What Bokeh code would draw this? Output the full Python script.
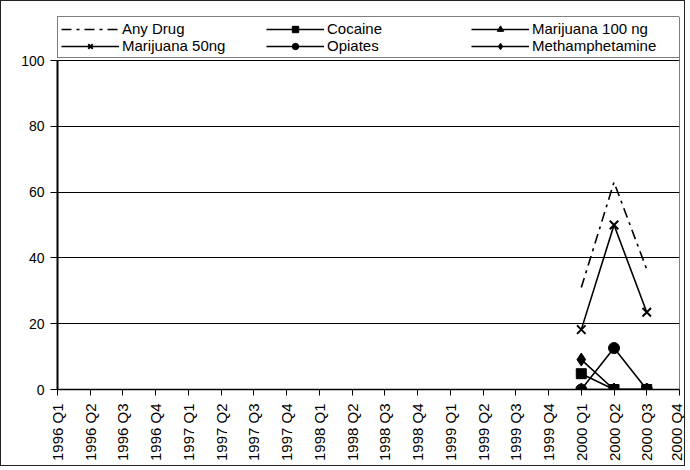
import numpy as np
from bokeh.plotting import figure
from bokeh.models import Legend, LegendItem, FixedTicker, Range1d, ColumnDataSource, Span
from bokeh.embed import file_html
from bokeh.resources import INLINE

quarters = ["1996 Q1", "1996 Q2", "1996 Q3", "1996 Q4",
            "1997 Q1", "1997 Q2", "1997 Q3", "1997 Q4",
            "1998 Q1", "1998 Q2", "1998 Q3", "1998 Q4",
            "1999 Q1", "1999 Q2", "1999 Q3", "1999 Q4",
            "2000 Q1", "2000 Q2", "2000 Q3", "2000 Q4"]
N = None
any_drug = [N, N, N, N, N, N, N, N, N, N, N, N, N, N, N, N, 31.0, 63.0, 36.5, N]
cocaine = [N, N, N, N, N, N, N, N, N, N, N, N, N, N, N, N, 4.8, 0.0, 0.0, N]
marijuana_100 = [N, N, N, N, N, N, N, N, N, N, N, N, N, N, N, N, 0.0, 0.0, 0.0, N]
marijuana_50 = [N, N, N, N, N, N, N, N, N, N, N, N, N, N, N, N, 18.2, 50.0, 23.5, N]
opiates = [N, N, N, N, N, N, N, N, N, N, N, N, N, N, N, N, 0.0, 12.6, 0.0, N]
meth = [N, N, N, N, N, N, N, N, N, N, N, N, N, N, N, N, 9.1, 0.0, 0.0, N]
y_ticks = [0, 20, 40, 60, 80, 100]

def arr(v):
    return np.array([np.nan if a is None else a for a in v], dtype=float)

src = ColumnDataSource(dict(
    idx=list(range(len(quarters))),
    any_drug=arr(any_drug), cocaine=arr(cocaine), m100=arr(marijuana_100),
    m50=arr(marijuana_50), opiates=arr(opiates), meth=arr(meth)))

FONT = "Liberation Sans"

# frame spans legend area on top; the value axis (0-100) covers the lower 329 of 373 px
Y_TOP = 100 * 373 / 329

p = figure(width=685, height=466, x_range=Range1d(0, len(quarters) - 1), y_range=Range1d(0, Y_TOP),
           output_backend="svg", toolbar_location=None,
           min_border_left=56, min_border_right=7, min_border_top=15, min_border_bottom=78)
p.styles = {"border": "1px solid #222"}
p.outline_line_color = None
p.background_fill_color = "white"
p.border_fill_color = "white"

p.xgrid.visible = False
p.ygrid.grid_line_color = "black"
p.ygrid.grid_line_width = 1
p.ygrid.ticker = FixedTicker(ticks=y_ticks)

p.yaxis.ticker = FixedTicker(ticks=y_ticks)
p.yaxis.bounds = (0, 100)
p.yaxis.axis_line_width = 2
p.yaxis.axis_line_color = "black"
p.yaxis.major_tick_out = 7
p.yaxis.major_tick_in = 0
p.yaxis.minor_tick_line_color = None
p.yaxis.major_label_standoff = 6
p.yaxis.major_label_text_font_size = "14px"

p.xaxis.ticker = FixedTicker(ticks=list(range(len(quarters))))
p.xaxis.major_label_overrides = {i: q for i, q in enumerate(quarters)}
p.xaxis.major_label_orientation = np.pi / 2
p.xaxis.axis_line_width = 1.5
p.xaxis.axis_line_color = "black"
p.xaxis.major_tick_out = 6
p.xaxis.major_tick_in = 0
p.xaxis.minor_tick_line_color = None
p.xaxis.major_label_standoff = 8
p.xaxis.major_label_text_font_size = "15px"

for ax in (p.xaxis, p.yaxis):
    ax.major_label_text_font = FONT
    ax.major_label_text_color = "black"
    ax.major_tick_line_color = "black"

# right edge of the plot area
p.add_layout(Span(location=len(quarters) - 1, dimension="height", line_color="black", line_width=1))

LW = 1.6
r_any = p.line("idx", "any_drug", source=src, color="black", line_width=LW, line_dash="10 5 3 5")
l_m50 = p.line("idx", "m50", source=src, color="black", line_width=LW)
s_m50 = p.scatter("idx", "m50", source=src, marker="x", size=12, line_color="black", line_width=2)
l_m100 = p.line("idx", "m100", source=src, color="black", line_width=LW)
s_m100 = p.scatter("idx", "m100", source=src, marker="triangle", size=11, color="black")
l_meth = p.line("idx", "meth", source=src, color="black", line_width=LW)
s_meth = p.scatter("idx", "meth", source=src, marker="diamond", size=13, color="black")
l_op = p.line("idx", "opiates", source=src, color="black", line_width=LW)
s_op = p.scatter("idx", "opiates", source=src, marker="circle", size=11, color="black")
l_coc = p.line("idx", "cocaine", source=src, color="black", line_width=LW)
s_coc = p.scatter("idx", "cocaine", source=src, marker="square", size=10, color="black")

items = [
    LegendItem(label="Any Drug", renderers=[r_any]),
    LegendItem(label="Cocaine", renderers=[l_coc, s_coc]),
    LegendItem(label="Marijuana 100 ng", renderers=[l_m100, s_m100]),
    LegendItem(label="Marijuana 50ng", renderers=[l_m50, s_m50]),
    LegendItem(label="Opiates", renderers=[l_op, s_op]),
    LegendItem(label="Methamphetamine", renderers=[l_meth, s_meth]),
]
legend = Legend(items=items, location="top_left", orientation="horizontal", ncols=3,
                border_line_color="black", border_line_width=1,
                background_fill_color="white", background_fill_alpha=1,
                label_text_font=FONT, label_text_font_size="15px", label_text_color="black",
                glyph_width=58, glyph_height=16, label_height=16, label_standoff=3,
                label_width=144, padding=3, spacing=0, margin=0)
p.add_layout(legend, "center")

open("out.html", "w").write(file_html(p, INLINE))
